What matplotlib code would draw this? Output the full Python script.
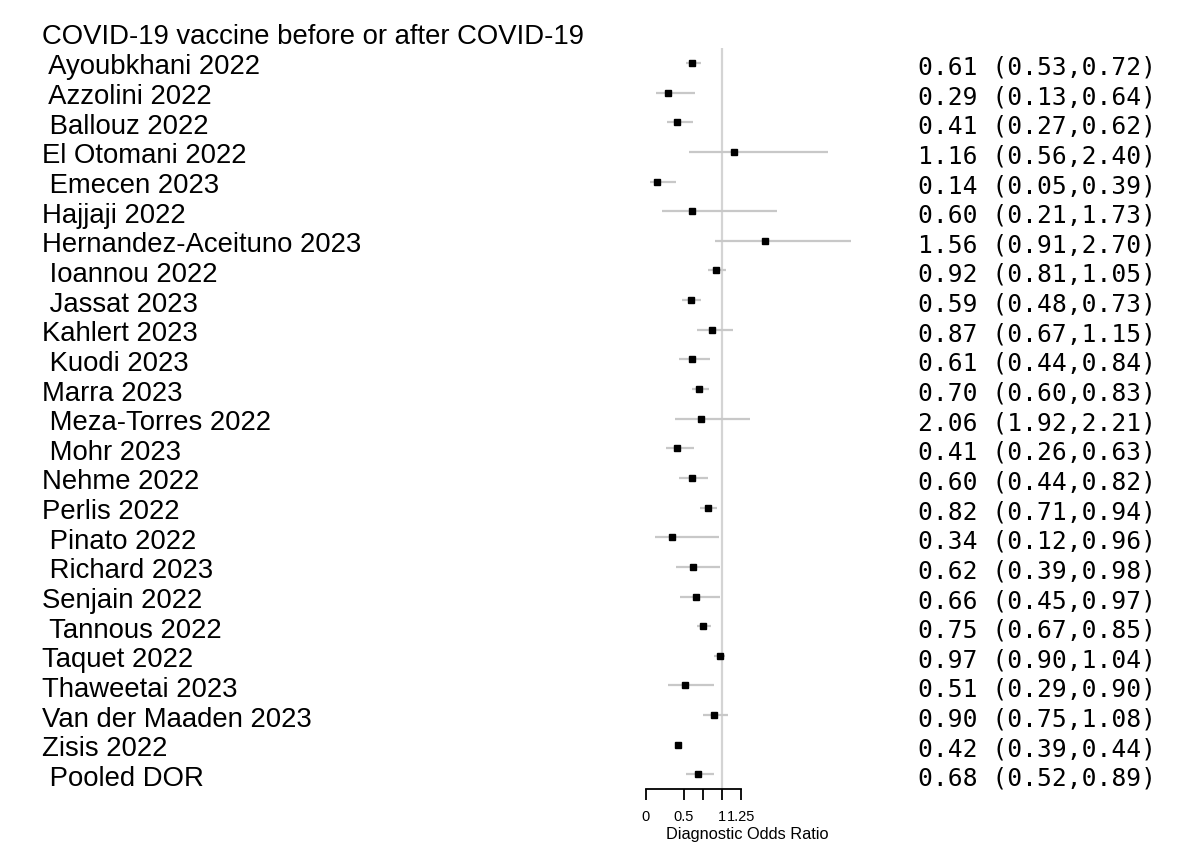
import matplotlib
matplotlib.use("Agg")
import matplotlib.pyplot as plt
import matplotlib.transforms as mtransforms

# ---------------- data ----------------
header = "COVID-19 vaccine before or after COVID-19"
studies = [" Ayoubkhani 2022", " Azzolini 2022", " Ballouz 2022", "El Otomani 2022",
           " Emecen 2023", "Hajjaji 2022", "Hernandez-Aceituno 2023", " Ioannou 2022",
           " Jassat 2023", "Kahlert 2023", " Kuodi 2023", "Marra 2023",
           " Meza-Torres 2022", " Mohr 2023", "Nehme 2022", "Perlis 2022",
           " Pinato 2022", " Richard 2023", "Senjain 2022", " Tannous 2022",
           "Taquet 2022", "Thaweetai 2023", "Van der Maaden 2023", "Zisis 2022",
           " Pooled DOR"]

# printed values (right column)
txt_dor = [0.61, 0.29, 0.41, 1.16, 0.14, 0.60, 1.56, 0.92, 0.59, 0.87, 0.61, 0.70,
           2.06, 0.41, 0.60, 0.82, 0.34, 0.62, 0.66, 0.75, 0.97, 0.51, 0.90, 0.42, 0.68]
txt_lo = [0.53, 0.13, 0.27, 0.56, 0.05, 0.21, 0.91, 0.81, 0.48, 0.67, 0.44, 0.60,
          1.92, 0.26, 0.44, 0.71, 0.12, 0.39, 0.45, 0.67, 0.90, 0.29, 0.75, 0.39, 0.52]
txt_hi = [0.72, 0.64, 0.62, 2.40, 0.39, 1.73, 2.70, 1.05, 0.73, 1.15, 0.84, 0.83,
          2.21, 0.63, 0.82, 0.94, 0.96, 0.98, 0.97, 0.85, 1.04, 0.90, 1.08, 0.44, 0.89]

# plotted marks as drawn in the picture
est = [0.61, 0.29, 0.41, 1.16, 0.14, 0.60, 1.56, 0.92, 0.59, 0.87, 0.61, 0.70,
       0.73, 0.41, 0.60, 0.82, 0.34, 0.62, 0.66, 0.75, 0.97, 0.51, 0.90, 0.42, 0.68]
lo = [0.53, 0.13, 0.27, 0.56, 0.05, 0.21, 0.91, 0.81, 0.48, 0.67, 0.44, 0.60,
      0.38, 0.26, 0.44, 0.71, 0.12, 0.39, 0.45, 0.67, 0.90, 0.29, 0.75, 0.39, 0.52]
hi = [0.72, 0.64, 0.62, 2.40, 0.39, 1.73, 2.70, 1.05, 0.73, 1.15, 0.84, 0.83,
      1.37, 0.63, 0.82, 0.94, 0.96, 0.98, 0.97, 0.85, 1.04, 0.90, 1.08, 0.44, 0.89]

xticks = [0, 0.5, 0.75, 1, 1.25]
xticklabels = ["0", "0.5", "", "1", "1.25"]
xlabel = "Diagnostic Odds Ratio"

# ---------------- layout ----------------
W, H = 1200, 868
fig = plt.figure(figsize=(W / 100, H / 100), dpi=100)
fig.patch.set_facecolor("white")

X0_PX, PX_PER_UNIT = 646, 76.0
AX_L, AX_R, AX_T, AX_B = 560, 900, 20, 789
ax = fig.add_axes([AX_L / W, 1 - AX_B / H, (AX_R - AX_L) / W, (AX_B - AX_T) / H])
ax.set_xlim((AX_L - X0_PX) / PX_PER_UNIT, (AX_R - X0_PX) / PX_PER_UNIT)
ax.set_ylim(AX_B, AX_T)  # y in pixel-like units, top down
ax.patch.set_alpha(0)

ROW0, PITCH = 63.0, 29.64
rows = [ROW0 + PITCH * i for i in range(len(studies))]

# reference line at 1
ax.vlines(1, 48, AX_B, color="#d4d4d4", lw=1.6, zorder=1)

# CIs and points
ax.hlines(rows, lo, hi, color="#c8c8c8", lw=1.6, zorder=2)
ax.plot(est, rows, ls="none", marker="s", ms=3.8, color="black", zorder=3)

for s in ["top", "right", "left"]:
    ax.spines[s].set_visible(False)
ax.spines["bottom"].set_bounds(0, 1.25)
ax.spines["bottom"].set_linewidth(1.3)
ax.set_yticks([])
ax.set_xticks(xticks)
ax.set_xticklabels(xticklabels, fontsize=10.5, family="Liberation Sans")
ax.tick_params(axis="x", direction="out", length=8, width=1.3, pad=7)

fig.text(747 / W, 1 - 835 / H, xlabel, ha="center", va="center",
         fontsize=11.8, family="Liberation Sans")

trans = mtransforms.blended_transform_factory(fig.transFigure, ax.transData)

LABEL_FS = 19.8
ax.text(42 / W, 44, header, transform=trans, ha="left", va="baseline",
        fontsize=LABEL_FS, family="Liberation Sans", clip_on=False)

for name, y, d, l, h in zip(studies, rows, txt_dor, txt_lo, txt_hi):
    ax.text(42 / W, y + 11.5, name, transform=trans, ha="left", va="baseline",
            fontsize=LABEL_FS, family="Liberation Sans", clip_on=False)
    ax.text(918 / W, y + 11.5, f"{d:.2f} ({l:.2f},{h:.2f})", transform=trans,
            ha="left", va="baseline", fontsize=17.7, family="DejaVu Sans Mono",
            clip_on=False)

fig.savefig("out.png", dpi=100)
